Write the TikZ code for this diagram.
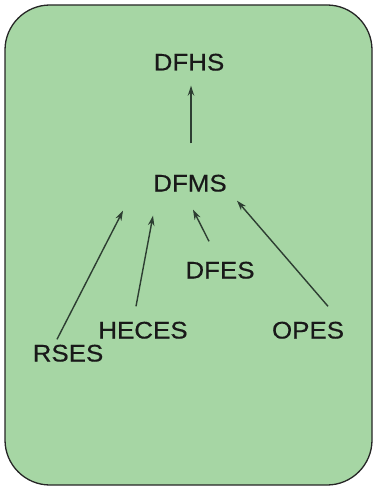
\documentclass[tikz,border=0pt]{standalone}
\usepackage{fontspec}
\usetikzlibrary{arrows.meta,calc}
\newfontfamily\lblfont[FakeStretch=1.08,FakeBold=0.4]{Liberation Sans}
\definecolor{panelgreen}{RGB}{166,214,164}
\definecolor{arrowgray}{RGB}{45,62,50}
\tikzset{
  lbl/.style={font=\lblfont\fontsize{24}{28}\selectfont, text=black!90,
    inner sep=0pt, text height=17pt, text depth=0pt},
  arr/.style={-{Stealth[length=10pt,width=6.5pt]}, draw=arrowgray, line width=1.4pt}
}
\begin{document}
\begin{tikzpicture}[x=1pt,y=-1pt]
        \useasboundingbox (0,0) rectangle (375,489);
        % green panel
        \draw[fill=panelgreen, draw=black!85, line width=1.3pt, rounded corners=45pt]
            (5,5) rectangle (372,485);
        \node[lbl] (dfhs) at (189,62) {DFHS};
        \node[lbl] (dfms) at (190,183) {DFMS};
        \node[lbl] (dfes) at (220,270) {DFES};
        \node[lbl] (heces) at (143,330) {HECES};
        \node[lbl] (opes) at (308,330) {OPES};
        \node[lbl] (rses) at (68,353) {RSES};
        % DFMS up to DFHS
        \draw[arr] ($(dfms.north)+(1,-31)$) -- ($(dfhs.south)+(2,15)$);
        % RSES to DFMS
        \draw[arr] ($(rses.north)+(-11,-5)$) -- ($(dfms.south)+(-67,19)$);
        % HECES to DFMS
        \draw[arr] ($(heces.north)+(-7,-15)$) -- ($(dfms.south)+(-37,24)$);
        % DFES to DFMS
        \draw[arr] ($(dfes.north)+(-11,-20)$) -- ($(dfms.south)+(3,18)$);
        % OPES to DFMS
        \draw[arr] ($(opes.north)+(20,-15)$) -- ($(dfms.south)+(47,9)$);
    \end{tikzpicture}
\end{document}
